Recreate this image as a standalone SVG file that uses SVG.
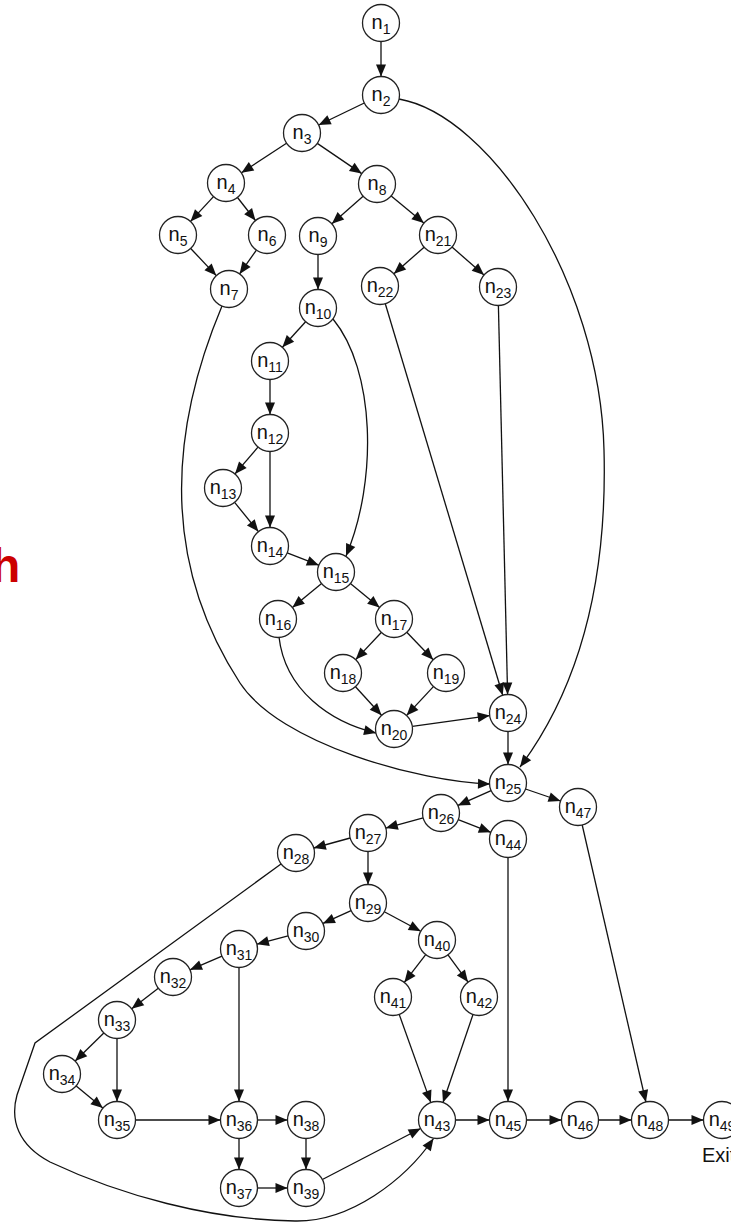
<svg xmlns="http://www.w3.org/2000/svg" width="731" height="1225" viewBox="0 0 731 1225">
<style>
.e{fill:none;stroke:#111;stroke-width:1.3;marker-end:url(#ah)}
.nd circle{fill:#fff;stroke:#222;stroke-width:1.3}
.nd text{font-family:"Liberation Sans",Arial,sans-serif;font-size:20px;fill:#111;text-anchor:middle}
.nd tspan{font-size:14px}
.lbl{font-family:"Liberation Sans",Arial,sans-serif;font-size:20px;fill:#222}
.red{font-family:"Liberation Sans",Arial,sans-serif;font-size:48px;font-weight:bold;fill:#cc0000}
</style>
<defs>
<marker id="ah" markerUnits="userSpaceOnUse" markerWidth="12" markerHeight="10" refX="12" refY="5" orient="auto" overflow="visible">
<path d="M0,0 L12,5 L0,10 z" fill="#111"/>
</marker>
</defs>
<rect width="731" height="1225" fill="#fff"/>
<text class="red" x="-9" y="582">h</text>
<g id="connectors">
<line class="e" x1="381" y1="41.5" x2="381" y2="76.5"/>
<line class="e" x1="364.3" y1="103" x2="318.7" y2="125"/>
<line class="e" x1="286.5" y1="143.2" x2="241.5" y2="172.8"/>
<line class="e" x1="317.3" y1="143.4" x2="361.7" y2="173.6"/>
<line class="e" x1="213.5" y1="196.6" x2="190.5" y2="221.4"/>
<line class="e" x1="237.5" y1="197.5" x2="255.5" y2="220.5"/>
<line class="e" x1="190.7" y1="248.5" x2="216.3" y2="275.6"/>
<line class="e" x1="256.4" y1="250.1" x2="239.6" y2="273.9"/>
<line class="e" x1="363.1" y1="196.2" x2="331.9" y2="223.8"/>
<line class="e" x1="391.2" y1="195.9" x2="423.8" y2="223.1"/>
<line class="e" x1="318" y1="254.5" x2="318" y2="289.5"/>
<line class="e" x1="305.6" y1="321.7" x2="282.4" y2="347.3"/>
<line class="e" x1="270" y1="379.5" x2="270" y2="414.5"/>
<line class="e" x1="258" y1="447.1" x2="235" y2="473.9"/>
<line class="e" x1="270" y1="451.5" x2="270" y2="527.5"/>
<line class="e" x1="234.6" y1="502.4" x2="258.4" y2="531.6"/>
<line class="e" x1="287.2" y1="552.8" x2="318.8" y2="565.2"/>
<line class="e" x1="321.6" y1="583.6" x2="292.4" y2="607.4"/>
<line class="e" x1="350.4" y1="583.6" x2="379.6" y2="607.4"/>
<line class="e" x1="381.3" y1="632.5" x2="355.7" y2="659.6"/>
<line class="e" x1="406.8" y1="632.3" x2="433.2" y2="659.7"/>
<line class="e" x1="355.5" y1="686.7" x2="381.5" y2="715.3"/>
<line class="e" x1="433.4" y1="686.6" x2="406.6" y2="715.4"/>
<line class="e" x1="412.3" y1="726.4" x2="489.7" y2="715.6"/>
<line class="e" x1="424.1" y1="247.2" x2="393.9" y2="273.8"/>
<line class="e" x1="452" y1="247.1" x2="484" y2="274.9"/>
<line class="e" x1="385.3" y1="303.7" x2="502.7" y2="695.3"/>
<line class="e" x1="498.4" y1="305.5" x2="507.6" y2="694.5"/>
<line class="e" x1="508" y1="731.5" x2="508" y2="764.5"/>
<line class="e" x1="491.1" y1="790.6" x2="457.9" y2="805.4"/>
<line class="e" x1="525.5" y1="789" x2="560.5" y2="801"/>
<line class="e" x1="423.2" y1="817.9" x2="385.8" y2="828.1"/>
<line class="e" x1="458.2" y1="819.7" x2="490.8" y2="832.3"/>
<line class="e" x1="350.2" y1="838" x2="313.8" y2="848"/>
<line class="e" x1="368" y1="851.5" x2="368" y2="884.5"/>
<line class="e" x1="351.1" y1="910.6" x2="322.9" y2="923.4"/>
<line class="e" x1="384.3" y1="911.7" x2="420.7" y2="931.3"/>
<line class="e" x1="288.1" y1="935.8" x2="256.9" y2="944.2"/>
<line class="e" x1="222" y1="956.2" x2="190" y2="969.8"/>
<line class="e" x1="239" y1="967.5" x2="239" y2="1101.5"/>
<line class="e" x1="158.3" y1="988.3" x2="131.7" y2="1008.7"/>
<line class="e" x1="103.8" y1="1033" x2="75.2" y2="1061"/>
<line class="e" x1="117" y1="1038.5" x2="117" y2="1101.5"/>
<line class="e" x1="76.2" y1="1085.9" x2="102.8" y2="1108.1"/>
<line class="e" x1="135.5" y1="1120" x2="220.5" y2="1120"/>
<line class="e" x1="239" y1="1138.5" x2="239" y2="1169.5"/>
<line class="e" x1="257.5" y1="1120" x2="287.5" y2="1120"/>
<line class="e" x1="257.5" y1="1188" x2="287.5" y2="1188"/>
<line class="e" x1="306" y1="1138.5" x2="306" y2="1169.5"/>
<line class="e" x1="322.4" y1="1179.5" x2="420.6" y2="1128.5"/>
<line class="e" x1="425.7" y1="954.6" x2="404.3" y2="982.4"/>
<line class="e" x1="448" y1="954.9" x2="468" y2="982.1"/>
<line class="e" x1="399.2" y1="1014.4" x2="430.8" y2="1102.6"/>
<line class="e" x1="473" y1="1014.5" x2="443" y2="1102.5"/>
<line class="e" x1="455.5" y1="1120" x2="489.5" y2="1120"/>
<line class="e" x1="508" y1="857.5" x2="508" y2="1101.5"/>
<line class="e" x1="526.5" y1="1120" x2="561.5" y2="1120"/>
<line class="e" x1="598.5" y1="1120" x2="631.5" y2="1120"/>
<line class="e" x1="582.2" y1="825" x2="645.9" y2="1102"/>
<line class="e" x1="668.5" y1="1120" x2="703.5" y2="1120"/>
<path class="e" d="M399,99 C490,115 600,280 604,450 C608,600 570,700 520,767"/>
<path class="e" d="M222,306 C170,430 160,560 240,683 C280,744 420,782 490,784"/>
<path class="e" d="M333,319 C375,370 378,480 346,556"/>
<path class="e" d="M279,637 C285,690 330,722 376,733"/>
<path class="e" d="M281,864 L35,1043 L17,1095 C10,1120 18,1145 50,1162 C120,1195 210,1220 295,1221 C350,1222 405,1180 433.5,1138.5"/>
</g>
<g id="n1" class="nd"><circle cx="381" cy="23" r="18.5"/><text x="381" y="29">n<tspan dy="4.5">1</tspan></text></g>
<g id="n2" class="nd"><circle cx="381" cy="95" r="18.5"/><text x="381" y="101">n<tspan dy="4.5">2</tspan></text></g>
<g id="n3" class="nd"><circle cx="302" cy="133" r="18.5"/><text x="302" y="139">n<tspan dy="4.5">3</tspan></text></g>
<g id="n4" class="nd"><circle cx="226" cy="183" r="18.5"/><text x="226" y="189">n<tspan dy="4.5">4</tspan></text></g>
<g id="n5" class="nd"><circle cx="178" cy="235" r="18.5"/><text x="178" y="241">n<tspan dy="4.5">5</tspan></text></g>
<g id="n6" class="nd"><circle cx="267" cy="235" r="18.5"/><text x="267" y="241">n<tspan dy="4.5">6</tspan></text></g>
<g id="n7" class="nd"><circle cx="229" cy="289" r="18.5"/><text x="229" y="295">n<tspan dy="4.5">7</tspan></text></g>
<g id="n8" class="nd"><circle cx="377" cy="184" r="18.5"/><text x="377" y="190">n<tspan dy="4.5">8</tspan></text></g>
<g id="n9" class="nd"><circle cx="318" cy="236" r="18.5"/><text x="318" y="242">n<tspan dy="4.5">9</tspan></text></g>
<g id="n10" class="nd"><circle cx="318" cy="308" r="18.5"/><text x="318" y="314">n<tspan dy="4.5">10</tspan></text></g>
<g id="n11" class="nd"><circle cx="270" cy="361" r="18.5"/><text x="270" y="367">n<tspan dy="4.5">11</tspan></text></g>
<g id="n12" class="nd"><circle cx="270" cy="433" r="18.5"/><text x="270" y="439">n<tspan dy="4.5">12</tspan></text></g>
<g id="n13" class="nd"><circle cx="223" cy="488" r="18.5"/><text x="223" y="494">n<tspan dy="4.5">13</tspan></text></g>
<g id="n14" class="nd"><circle cx="270" cy="546" r="18.5"/><text x="270" y="552">n<tspan dy="4.5">14</tspan></text></g>
<g id="n15" class="nd"><circle cx="336" cy="572" r="18.5"/><text x="336" y="578">n<tspan dy="4.5">15</tspan></text></g>
<g id="n16" class="nd"><circle cx="278" cy="619" r="18.5"/><text x="278" y="625">n<tspan dy="4.5">16</tspan></text></g>
<g id="n17" class="nd"><circle cx="394" cy="619" r="18.5"/><text x="394" y="625">n<tspan dy="4.5">17</tspan></text></g>
<g id="n18" class="nd"><circle cx="343" cy="673" r="18.5"/><text x="343" y="679">n<tspan dy="4.5">18</tspan></text></g>
<g id="n19" class="nd"><circle cx="446" cy="673" r="18.5"/><text x="446" y="679">n<tspan dy="4.5">19</tspan></text></g>
<g id="n20" class="nd"><circle cx="394" cy="729" r="18.5"/><text x="394" y="735">n<tspan dy="4.5">20</tspan></text></g>
<g id="n21" class="nd"><circle cx="438" cy="235" r="18.5"/><text x="438" y="241">n<tspan dy="4.5">21</tspan></text></g>
<g id="n22" class="nd"><circle cx="380" cy="286" r="18.5"/><text x="380" y="292">n<tspan dy="4.5">22</tspan></text></g>
<g id="n23" class="nd"><circle cx="498" cy="287" r="18.5"/><text x="498" y="293">n<tspan dy="4.5">23</tspan></text></g>
<g id="n24" class="nd"><circle cx="508" cy="713" r="18.5"/><text x="508" y="719">n<tspan dy="4.5">24</tspan></text></g>
<g id="n25" class="nd"><circle cx="508" cy="783" r="18.5"/><text x="508" y="789">n<tspan dy="4.5">25</tspan></text></g>
<g id="n26" class="nd"><circle cx="441" cy="813" r="18.5"/><text x="441" y="819">n<tspan dy="4.5">26</tspan></text></g>
<g id="n27" class="nd"><circle cx="368" cy="833" r="18.5"/><text x="368" y="839">n<tspan dy="4.5">27</tspan></text></g>
<g id="n28" class="nd"><circle cx="296" cy="853" r="18.5"/><text x="296" y="859">n<tspan dy="4.5">28</tspan></text></g>
<g id="n29" class="nd"><circle cx="368" cy="903" r="18.5"/><text x="368" y="909">n<tspan dy="4.5">29</tspan></text></g>
<g id="n30" class="nd"><circle cx="306" cy="931" r="18.5"/><text x="306" y="937">n<tspan dy="4.5">30</tspan></text></g>
<g id="n31" class="nd"><circle cx="239" cy="949" r="18.5"/><text x="239" y="955">n<tspan dy="4.5">31</tspan></text></g>
<g id="n32" class="nd"><circle cx="173" cy="977" r="18.5"/><text x="173" y="983">n<tspan dy="4.5">32</tspan></text></g>
<g id="n33" class="nd"><circle cx="117" cy="1020" r="18.5"/><text x="117" y="1026">n<tspan dy="4.5">33</tspan></text></g>
<g id="n34" class="nd"><circle cx="62" cy="1074" r="18.5"/><text x="62" y="1080">n<tspan dy="4.5">34</tspan></text></g>
<g id="n35" class="nd"><circle cx="117" cy="1120" r="18.5"/><text x="117" y="1126">n<tspan dy="4.5">35</tspan></text></g>
<g id="n36" class="nd"><circle cx="239" cy="1120" r="18.5"/><text x="239" y="1126">n<tspan dy="4.5">36</tspan></text></g>
<g id="n37" class="nd"><circle cx="239" cy="1188" r="18.5"/><text x="239" y="1194">n<tspan dy="4.5">37</tspan></text></g>
<g id="n38" class="nd"><circle cx="306" cy="1120" r="18.5"/><text x="306" y="1126">n<tspan dy="4.5">38</tspan></text></g>
<g id="n39" class="nd"><circle cx="306" cy="1188" r="18.5"/><text x="306" y="1194">n<tspan dy="4.5">39</tspan></text></g>
<g id="n40" class="nd"><circle cx="437" cy="940" r="18.5"/><text x="437" y="946">n<tspan dy="4.5">40</tspan></text></g>
<g id="n41" class="nd"><circle cx="393" cy="997" r="18.5"/><text x="393" y="1003">n<tspan dy="4.5">41</tspan></text></g>
<g id="n42" class="nd"><circle cx="479" cy="997" r="18.5"/><text x="479" y="1003">n<tspan dy="4.5">42</tspan></text></g>
<g id="n43" class="nd"><circle cx="437" cy="1120" r="18.5"/><text x="437" y="1126">n<tspan dy="4.5">43</tspan></text></g>
<g id="n44" class="nd"><circle cx="508" cy="839" r="18.5"/><text x="508" y="845">n<tspan dy="4.5">44</tspan></text></g>
<g id="n45" class="nd"><circle cx="508" cy="1120" r="18.5"/><text x="508" y="1126">n<tspan dy="4.5">45</tspan></text></g>
<g id="n46" class="nd"><circle cx="580" cy="1120" r="18.5"/><text x="580" y="1126">n<tspan dy="4.5">46</tspan></text></g>
<g id="n47" class="nd"><circle cx="578" cy="807" r="18.5"/><text x="578" y="813">n<tspan dy="4.5">47</tspan></text></g>
<g id="n48" class="nd"><circle cx="650" cy="1120" r="18.5"/><text x="650" y="1126">n<tspan dy="4.5">48</tspan></text></g>
<g id="n49" class="nd"><circle cx="722" cy="1120" r="18.5"/><text x="722" y="1126">n<tspan dy="4.5">49</tspan></text><text class="lbl" x="702" y="1162" style="text-anchor:start;font-size:20px">Exit</text></g>
</svg>
